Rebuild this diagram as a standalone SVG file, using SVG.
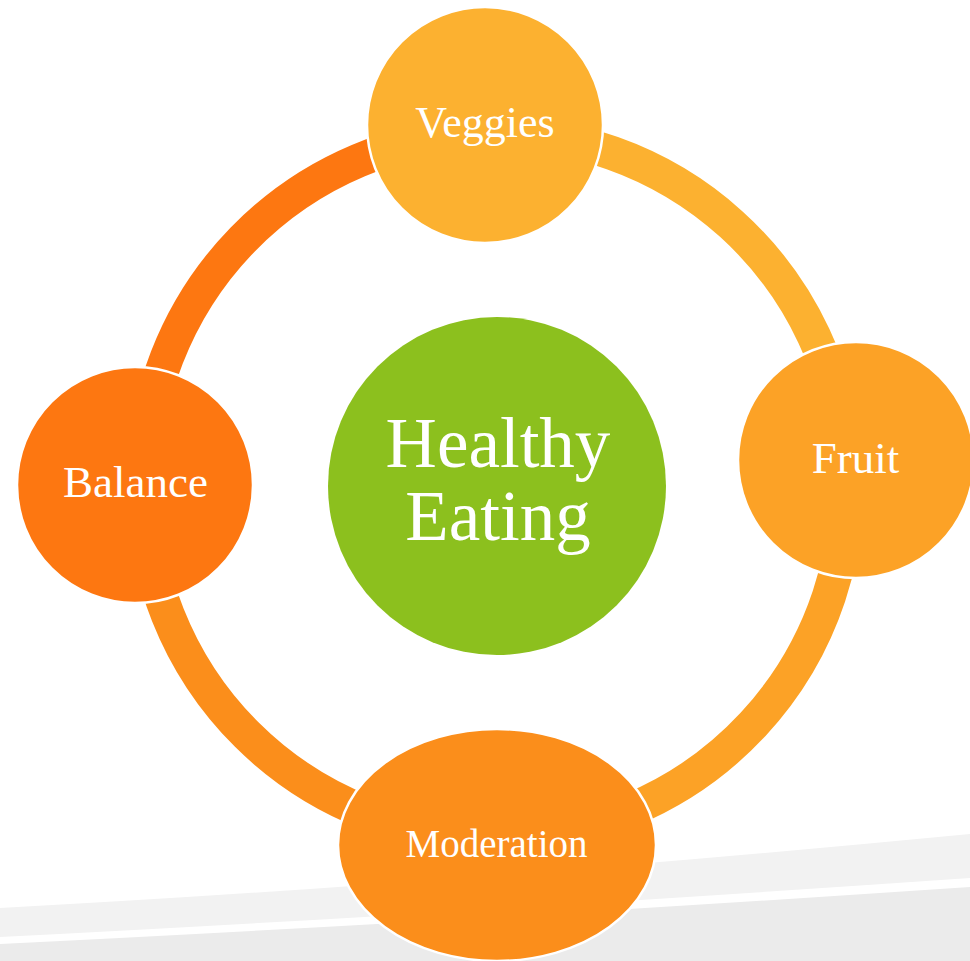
<svg xmlns="http://www.w3.org/2000/svg" width="970" height="961" viewBox="0 0 970 961">
  <style>
    .ring { fill: none; stroke-width: 34; stroke-linecap: butt; }
    .node { stroke: #ffffff; stroke-width: 2.5; }
    .label { fill: #ffffff; font-family: "Liberation Serif", "DejaVu Serif", serif; text-anchor: middle; }
  </style>

  <!-- page background with the curved bands at the bottom -->
  <rect x="0" y="0" width="970" height="961" fill="#ffffff"/>
  <path d="M0,908 Q450,884 970,834 L970,961 L0,961 Z" fill="#f2f2f2"/>
  <path d="M0,937 Q450,914 970,878 L970,961 L0,961 Z" fill="#ffffff"/>
  <path d="M0,944 Q450,922 970,887 L970,961 L0,961 Z" fill="#ebebeb"/>

  <!-- connectors: ring segments, each coloured like the node it leaves from -->
  <g id="connectors">
    <path class="ring" stroke="#fcb130" d="M485.2,133.1 A352,352 0 0 1 846.1,460.4"/>
    <path class="ring" stroke="#fca226" d="M846.1,460.4 A352,352 0 0 1 496.8,837"/>
    <path class="ring" stroke="#fb8e1b" d="M496.8,837 A352,352 0 0 1 143,485"/>
    <path class="ring" stroke="#fd7711" d="M143,485 A352,352 0 0 1 485.2,133.1"/>
  </g>

  <g id="node-center">
    <circle cx="497" cy="486" r="169" fill="#8cc01e"/>
    <text class="label" x="498" y="467" font-size="71">Healthy</text>
    <text class="label" x="498" y="540" font-size="71">Eating</text>
  </g>

  <g id="node-veggies">
    <circle class="node" cx="485" cy="125" r="118" fill="#fcb130"/>
    <text class="label" x="485" y="137" font-size="44">Veggies</text>
  </g>

  <g id="node-fruit">
    <circle class="node" cx="856" cy="460" r="118" fill="#fca226"/>
    <text class="label" x="855.5" y="473" font-size="45">Fruit</text>
  </g>

  <g id="node-moderation">
    <ellipse class="node" cx="497" cy="845" rx="159" ry="116" fill="#fb8e1b"/>
    <text class="label" x="496.5" y="857" font-size="39">Moderation</text>
  </g>

  <g id="node-balance">
    <circle class="node" cx="135" cy="485" r="118" fill="#fd7711"/>
    <text class="label" x="135.5" y="497" font-size="45">Balance</text>
  </g>
</svg>
